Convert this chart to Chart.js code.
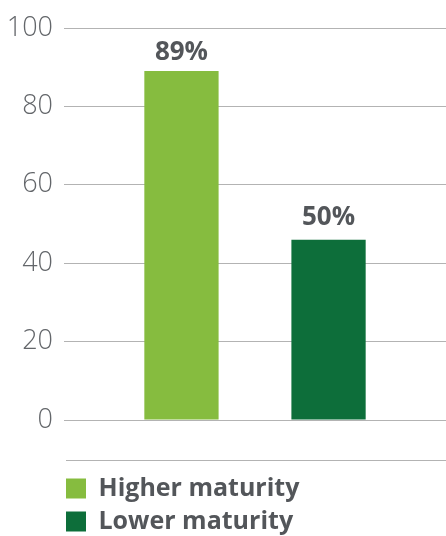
<!DOCTYPE html>
<html>
<head>
<meta charset="utf-8">
<script src="https://cdn.jsdelivr.net/npm/chart.js@4/dist/chart.umd.min.js"></script>
<style>
  html, body { margin: 0; padding: 0; background: #fff; }
  #wrap { width: 446px; height: 536px; }
</style>
</head>
<body>
<div id="wrap"><canvas id="chart"></canvas></div>
<script>
const categories = [''];
const seriesNames = ['Higher maturity', 'Lower maturity'];
const seriesValues = [89, 46];
const valueLabels = ['89%', '50%'];
const seriesColors = ['#86bc3f', '#0d6e3a'];
const yTicks = [0, 20, 40, 60, 80, 100];

const textGray = '#53565a';

// labels above each bar
const barLabels = {
    id: 'barLabels',
    afterDatasetsDraw(chart) {
        const ctx = chart.ctx;
        ctx.save();
        ctx.fillStyle = textGray;
        ctx.font = 'bold 26px "Open Sans"';
        ctx.textAlign = 'center';
        ctx.textBaseline = 'bottom';
        chart.data.datasets.forEach((ds, i) => {
            const bar = chart.getDatasetMeta(i).data[0];
            ctx.fillText(valueLabels[i], bar.x, bar.y - (i === 0 ? 6 : 9));
        });
        ctx.restore();
    }
};

// nudge the legend to line up under the plot, and draw the rule above it
const legendRule = {
    id: 'legendRule',
    afterLayout(chart) {
        const lg = chart.legend;
        lg.left = 58;
        lg.top += 8;
        lg.bottom += 8;
    },
    afterDraw(chart) {
        const ctx = chart.ctx;
        const y = chart.chartArea.bottom + 40.5;
        ctx.save();
        ctx.strokeStyle = '#b3b3b3';
        ctx.lineWidth = 1;
        ctx.beginPath();
        ctx.moveTo(66, y);
        ctx.lineTo(chart.width, y);
        ctx.stroke();
        ctx.restore();
    }
};

new Chart(document.getElementById('chart').getContext('2d'), {
    type: 'bar',
    data: {
        labels: categories,
        datasets: seriesNames.map((name, i) => ({
            label: name,
            data: [seriesValues[i]],
            backgroundColor: seriesColors[i],
            categoryPercentage: 0.77,
            barPercentage: 0.505
        }))
    },
    options: {
        responsive: true,
        maintainAspectRatio: false,
        animation: false,
        layout: { padding: { left: 0, top: 28, right: 0, bottom: 0 } },
        plugins: {
            tooltip: { enabled: false },
            legend: {
                position: 'bottom',
                align: 'start',
                labels: {
                    color: textGray,
                    font: { family: 'Open Sans', size: 25, weight: 'bold' },
                    boxWidth: 20,
                    boxHeight: 20,
                    padding: 8
                }
            }
        },
        scales: {
            x: {
                grid: { display: false },
                border: { display: false },
                ticks: { display: false },
                afterFit(axis) { axis.height = 40; }
            },
            y: {
                min: 0,
                max: 100,
                afterBuildTicks(axis) { axis.ticks = yTicks.map(v => ({ value: v })); },
                afterFit(axis) { axis.width = 64; },
                border: { display: false },
                grid: { color: '#b3b3b3', lineWidth: 1, drawTicks: false },
                ticks: {
                    color: '#63666a',
                    padding: 11,
                    font: { family: 'Open Sans', size: 27, weight: '300' }
                }
            }
        }
    },
    plugins: [barLabels, legendRule]
});
</script>
</body>
</html>
